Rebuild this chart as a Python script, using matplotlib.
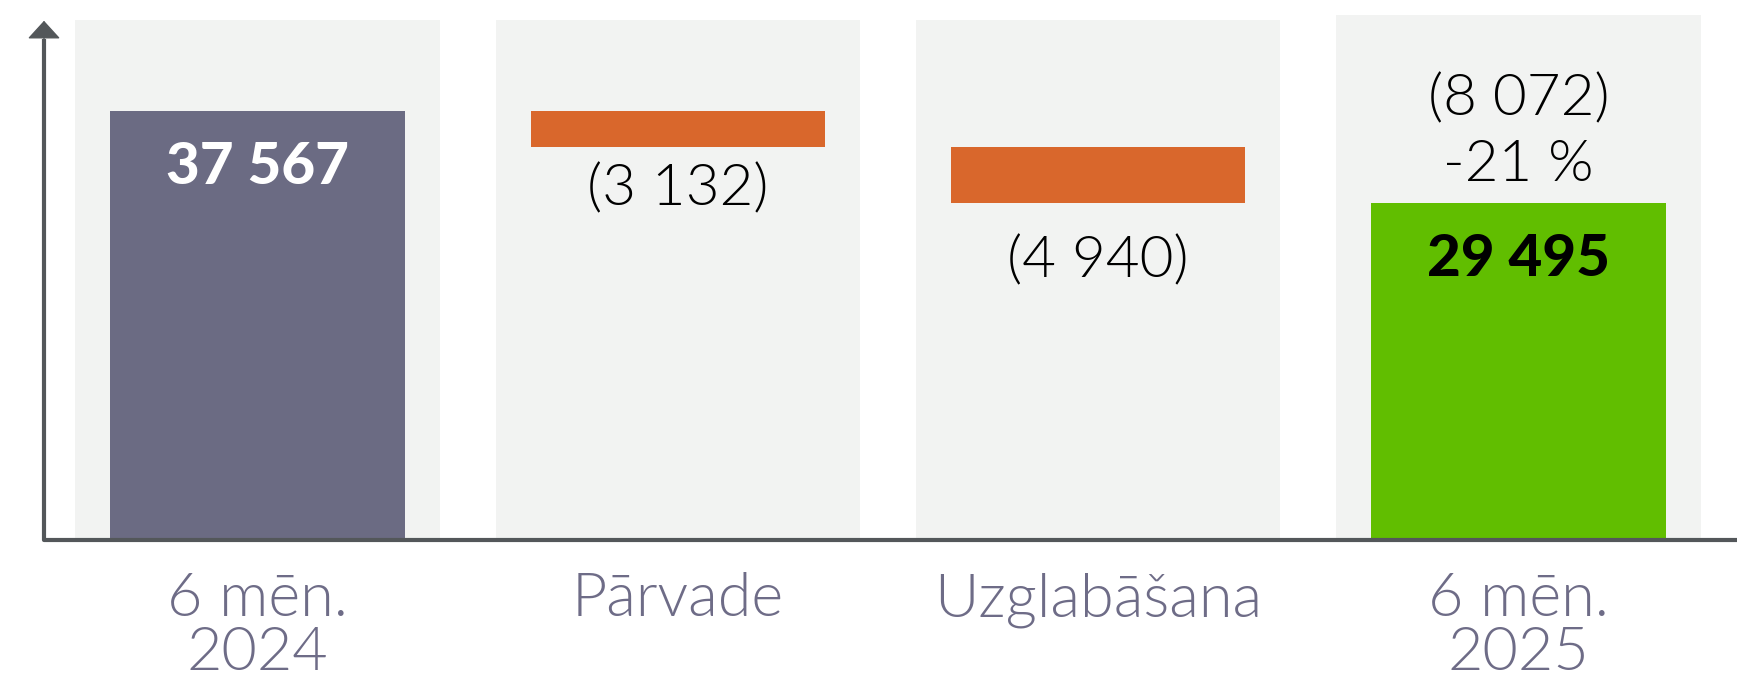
import matplotlib
matplotlib.use("Agg")
import matplotlib.pyplot as plt
import numpy as np

plt.rcParams['font.family'] = ['Lato', 'DejaVu Sans']

# ---- data ----
categories = ["6 mēn.\n2024", "Pārvade", "Uzglabāšana", "6 mēn.\n2025"]
start_value = 37567
changes = [-3132, -4940]
end_value = 29495
change_labels = ["(3 132)", "(4 940)"]
total_change_label = "(8 072)"
pct_change_label = "-21 %"
value_labels = ["37 567", "29 495"]

# ---- colours ----
c_start = "#6B6B83"
c_neg = "#D9672C"
c_end = "#61BE00"
c_panel = "#F2F3F2"
c_axis = "#53575A"
c_cat = "#6E6C87"

W, H = 1737, 675
fig = plt.figure(figsize=(W / 100, H / 100), dpi=100)
ax = fig.add_axes([44 / W, (H - 540) / H, 1 - 44 / W, (540 - 15) / H])

x = np.arange(len(categories))
ymax = 45973
ax.set_ylim(0, ymax)
ax.set_xlim(-0.508, 3.52)

light = 300
heavy = 900
fs_num = 42
fs_cat = 44

# background panels
panel_h = [0.99 * ymax, 0.99 * ymax, 0.99 * ymax, 1.0 * ymax]
ax.bar(x, panel_h, width=0.867, color=c_panel, zorder=0, clip_on=False)

# waterfall bars
bw = 0.70
ax.bar(x[0], start_value, width=bw, color=c_start, zorder=2)
level = start_value
bottoms = []
for i, ch in enumerate(changes):
    bottom = level + ch
    ax.bar(x[i + 1], -ch, bottom=bottom, width=bw, color=c_neg, zorder=2)
    bottoms.append(bottom)
    level = bottom
ax.bar(x[3], end_value, width=bw, color=c_end, zorder=2)

# labels
ax.annotate(value_labels[0], (x[0], start_value), xytext=(0, -57), textcoords='offset pixels',
            ha='center', va='center', fontsize=fs_num, fontweight=heavy, color='white', zorder=5)
offs = [-43, -59]
for i, lab in enumerate(change_labels):
    ax.annotate(lab, (x[i + 1], bottoms[i]), xytext=(0, offs[i]), textcoords='offset pixels',
                ha='center', va='center', fontsize=fs_num, fontweight=light, color='black', zorder=5)
ax.annotate(value_labels[1], (x[3], end_value), xytext=(0, -56), textcoords='offset pixels',
            ha='center', va='center', fontsize=fs_num, fontweight=heavy, color='black', zorder=5)
ax.annotate(pct_change_label, (x[3], end_value), xytext=(0, 38), textcoords='offset pixels',
            ha='center', va='center', fontsize=fs_num, fontweight=light, color='black', zorder=5)
ax.annotate(total_change_label, (x[3], end_value), xytext=(0, 103), textcoords='offset pixels',
            ha='center', va='center', fontsize=fs_num, fontweight=light, color='black', zorder=5)

# category labels
for xi, cat in zip(x, categories):
    ax.annotate(cat, (xi, 0), xytext=(0, -32), textcoords='offset pixels',
                ha='center', va='top', fontsize=fs_cat, fontweight=light, color=c_cat,
                linespacing=0.98, annotation_clip=False)

# axes
for s in ax.spines.values():
    s.set_visible(False)
ax.set_xticks([])
ax.set_yticks([])
x0, x1 = ax.get_xlim()
ax.plot([x0, x0, x1], [0.955 * ymax, 0, 0], color=c_axis, lw=3, solid_joinstyle='round',
        solid_capstyle='butt', clip_on=False, zorder=6)
ax.annotate('', xy=(x0, 0.989 * ymax), xytext=(x0, 0.95 * ymax),
            arrowprops=dict(arrowstyle='-|>,head_length=1.15,head_width=1.05', lw=1,
                            color=c_axis, mutation_scale=10, shrinkA=0, shrinkB=0),
            annotation_clip=False, zorder=6)

fig.savefig("out.png", dpi=100)
